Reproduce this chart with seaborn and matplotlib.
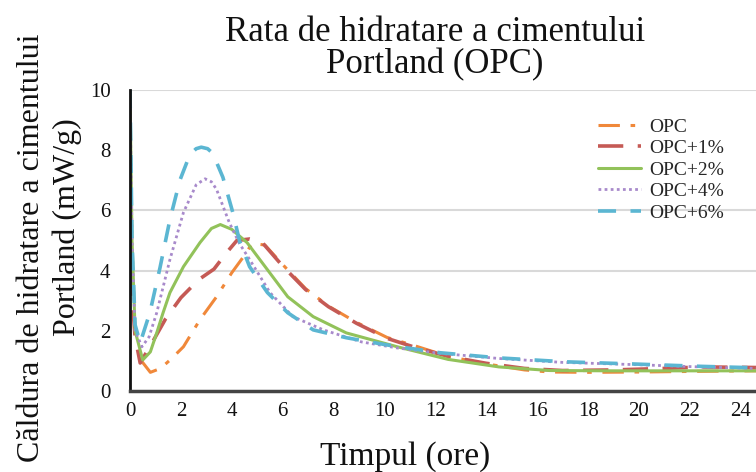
import matplotlib
matplotlib.use("Agg")
import matplotlib.pyplot as plt
import seaborn as sns
import pandas as pd

# ---- data ----
opc_x = [0.45, 0.8, 1.2, 1.6, 2.1, 2.75, 3.4, 4.0, 4.45, 4.8, 5.3, 6.0, 6.9, 7.8, 8.9,
         10.1, 11.2, 12.5, 14, 15.5, 16.5, 18, 20, 22, 24.6]
opc_y = [1.0, 0.62, 0.75, 1.05, 1.47, 2.37, 3.13, 3.93, 4.45, 4.9, 4.85, 4.2, 3.4, 2.82, 2.28,
         1.78, 1.5, 1.15, 0.9, 0.7, 0.63, 0.62, 0.63, 0.65, 0.67]

opc1_x = [0, 0.2, 0.4, 0.9, 1.4, 2.0, 2.7, 3.3, 3.8, 4.2, 4.7, 5.2, 6.0, 6.9, 7.8, 8.9,
          10.1, 11.2, 12.5, 14, 15.5, 17, 19, 21, 22.5, 24.6]
opc1_y = [4.0, 1.8, 0.93, 1.65, 2.4, 3.1, 3.7, 4.05, 4.6, 5.0, 5.05, 4.93, 4.15, 3.37, 2.8, 2.25,
          1.75, 1.45, 1.15, 0.92, 0.75, 0.68, 0.7, 0.75, 0.8, 0.78]

opc2_x = [0, 0.08, 0.2, 0.5, 0.8, 1.05, 1.3, 1.57, 2.1, 2.75, 3.2, 3.55, 4.0, 4.6, 5.4, 6.2,
          7.2, 8.5, 10.5, 12.5, 14.5, 16.5, 19, 22, 24.6]
opc2_y = [10, 5, 2.0, 1.03, 1.3, 1.93, 2.6, 3.27, 4.13, 4.93, 5.4, 5.53, 5.37, 4.93, 4.03, 3.13,
          2.47, 1.93, 1.47, 1.05, 0.8, 0.68, 0.67, 0.67, 0.67]

opc4_x = [0, 0.08, 0.2, 0.47, 0.75, 1.05, 1.57, 2.1, 2.6, 2.95, 3.2, 3.4, 3.9, 4.3, 4.7, 5.5,
          6.4, 7.6, 9.1, 10.5, 12.2, 14.5, 17, 19.7, 22.4, 24.6]
opc4_y = [10, 5, 2.0, 1.47, 1.8, 2.6, 4.37, 5.93, 6.85, 7.05, 6.95, 6.7, 5.6, 4.9, 4.37, 3.27,
          2.47, 2.03, 1.63, 1.43, 1.25, 1.08, 0.95, 0.88, 0.8, 0.75]

opc6_x = [0, 0.08, 0.2, 0.4, 0.78, 1.18, 1.57, 1.96, 2.35, 2.6, 2.8, 3.05, 3.25, 3.65, 4.05,
          4.3, 4.7, 5.4, 6.2, 7.2, 8.5, 10.1, 12.2, 14.5, 17.1, 19.7, 22.4, 24.6]
opc6_y = [10, 5, 2.2, 1.6, 2.6, 4.1, 5.7, 7.0, 7.85, 8.05, 8.1, 8.05, 7.9, 7.1, 5.9,
          5.0, 4.13, 3.27, 2.6, 2.03, 1.77, 1.53, 1.27, 1.1, 0.97, 0.9, 0.82, 0.77]

series_names = ["OPC", "OPC+1%", "OPC+2%", "OPC+4%", "OPC+6%"]
series_x = [opc_x, opc1_x, opc2_x, opc4_x, opc6_x]
series_y = [opc_y, opc1_y, opc2_y, opc4_y, opc6_y]

x_ticks = list(range(0, 25, 2))
y_ticks = [0, 2, 4, 6, 8, 10]
grid_levels = [4, 6, 10]

title_text = "Rata de hidratare a cimentului\nPortland (OPC)"
xlabel_text = "Timpul (ore)"
ylabel_line1 = "Căldura de hidratare a cimentului"
ylabel_line2 = "Portland (mW/g)"

# ---- styles ----
colors = ["#F0883A", "#C55A55", "#92C25A", "#A88ACB", "#5BB6D2"]
line_styles = [(0, (7, 3.5, 1.5, 3.5)), (0, (7, 4)), "-", (0, (1, 1.2)), (0, (5, 4))]
widths = [2.2, 2.6, 2.2, 2.0, 2.6]

sns.set_theme(style="white")
plt.rcParams["font.family"] = ["Liberation Serif", "DejaVu Serif"]

fig = plt.figure(figsize=(7.56, 4.72), dpi=100)
ax = fig.add_axes([130 / 756, 81 / 472, 626 / 756, 301 / 472])

for lvl in grid_levels:
    ax.axhline(lvl, color="#D9D9D9", lw=1.5, zorder=0)

for name, xs, ys, c, ls, w in zip(series_names, series_x, series_y, colors, line_styles, widths):
    df = pd.DataFrame({"t": xs, "v": ys})
    sns.lineplot(data=df, x="t", y="v", ax=ax, color=c, lw=w, label=name,
                 sort=False, estimator=None, linestyle=ls)

ax.set_xlim(0, 24.6)
ax.set_ylim(0, 10)
ax.set_xticks(x_ticks)
ax.set_yticks(y_ticks)
ax.tick_params(axis="both", labelsize=15, length=0, colors="#111111", pad=8)
ax.tick_params(axis="y", pad=14)

for s in ["top", "right"]:
    ax.spines[s].set_visible(False)
ax.spines["left"].set_color("#111111")
ax.spines["left"].set_linewidth(2)
ax.spines["bottom"].set_color("#444444")
ax.spines["bottom"].set_linewidth(2.5)

ax.set_xlabel("")
ax.set_ylabel("")
fig.text(405 / 756, 1 - 457 / 472, xlabel_text, ha="center", va="center", fontsize=24,
         color="#111111")
fig.text(32 / 756, 1 - 248 / 472, ylabel_line1, ha="center", va="center", fontsize=23,
         rotation=90, color="#111111")
fig.text(67 / 756, 1 - 227 / 472, ylabel_line2, ha="center", va="center", fontsize=23,
         rotation=90, color="#111111")
fig.text(435 / 756, 1 - 73 / 472, title_text, ha="center", va="baseline", fontsize=25,
         linespacing=0.95, color="#111111", multialignment="center")

leg = ax.legend(loc="upper left", bbox_to_anchor=(0.72, 0.965), frameon=False,
                fontsize=14, handlelength=2.2, handletextpad=0.4, labelspacing=0.2)

fig.savefig("out.png", dpi=100)
